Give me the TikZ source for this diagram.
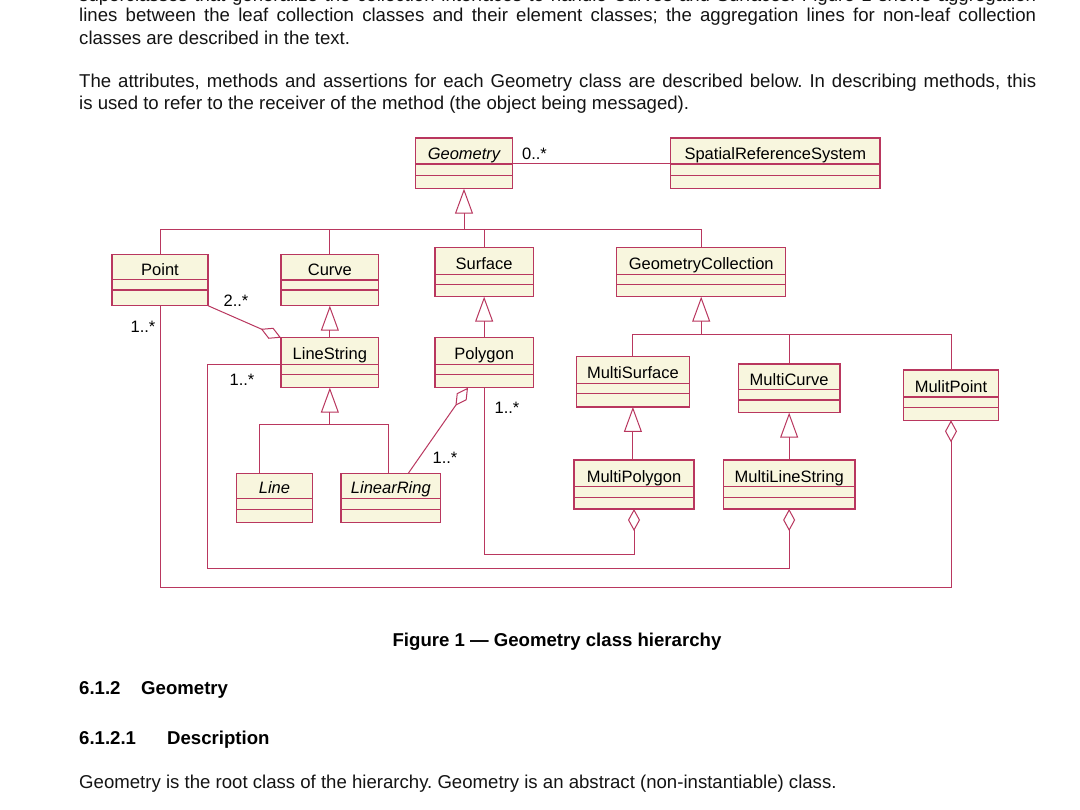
\documentclass[tikz,border=0pt]{standalone}
\usepackage{fontspec}
\setmainfont{Liberation Sans}
\usetikzlibrary{arrows.meta,calc}
\frenchspacing
\definecolor{umlline}{RGB}{185,55,95}
\definecolor{umlfill}{RGB}{248,246,222}
\definecolor{bodytext}{RGB}{20,20,20}
\newcommand{\bodyfont}{\fontsize{18.6}{22}\selectfont}
\newcommand{\umlfont}{\fontsize{16.5}{19}\selectfont}
% #1 name, #2 left, #3 top, #4 right, #5 bottom, #6 sep1, #7 sep2, #8 text, #9 font switch
\newcommand{\umlclass}[9]{%
  \node[classbox, minimum width={(#4-#2)*1pt}, minimum height={(#5-#3)*1pt}] (#1) at ({(#2+#4)/2},{(#3+#5)/2}) {};
  \coordinate (#1-s1) at (#2,#6);
  \draw[classsep] (#1-s1) -- (#4,#6);
  \draw[classsep] (#2,#7) -- (#4,#7);
  \node[classname, font=\umlfont#9] (#1-name) at ({(#2+#4)/2},{#6-4.5}) {#8};
}
\tikzset{
  classbox/.style={draw=umlline, fill=umlfill, line width=1.1pt, rectangle, inner sep=0pt, outer sep=0pt},
  classsep/.style={draw=umlline, line width=1.1pt},
  classname/.style={anchor=base, inner sep=0pt, text=black},
  conn/.style={draw=umlline, line width=1pt},
  gen/.style={conn, -{Triangle[open, length=25pt, width=18pt]}},
  agg/.style={conn, -{Diamond[open, length=22pt, width=12pt]}},
  mult/.style={font=\umlfont, inner sep=0pt, text=black},
  bodyline/.style={anchor=base west, inner sep=0pt, text=bodytext, font=\bodyfont},
  heading/.style={anchor=base west, inner sep=0pt, text=black, font=\bodyfont\bfseries},
}
\begin{document}
\begin{tikzpicture}[x=1pt, y=-1pt]
\path[use as bounding box, fill=white] (0,0) rectangle (1080,810);

% ---------- body text ----------
\node[bodyline] (t1) at (79,1.5) {\makebox[957pt][s]{superclasses that generalize the collection interfaces to handle Curves and Surfaces. Figure 1 shows aggregation}};
\node[bodyline] (t2) at (79,22) {\makebox[957pt][s]{lines between the leaf collection classes and their element classes; the aggregation lines for non-leaf collection}};
\node[bodyline] (t3) at (79,44.5) {classes are described in the text.};
\node[bodyline] (t4) at (79,87.5) {\makebox[957pt][s]{The attributes, methods and assertions for each Geometry class are described below. In describing methods, this}};
\node[bodyline] (t5) at (79,109.5) {is used to refer to the receiver of the method (the object being messaged).};

% ---------- classes ----------
\umlclass{Geometry}{415.3}{138}{512.7}{188.7}{164}{175.7}{Geometry}{\itshape}
\umlclass{SRS}{670.7}{138}{880}{188.7}{164}{175.7}{SpatialReferenceSystem}{}
\umlclass{Point}{112}{254.7}{208}{305.7}{279.7}{290}{Point}{}
\umlclass{Curve}{281}{254.7}{378.7}{305.7}{280}{290}{Curve}{}
\umlclass{Surface}{435}{247.3}{533.3}{296.7}{274.3}{284.3}{Surface}{}
\umlclass{GC}{616.7}{247.3}{785.7}{296.7}{274.3}{284.3}{GeometryCollection}{}
\umlclass{LineString}{281}{337.7}{378.7}{387.7}{364.3}{374.7}{LineString}{}
\umlclass{Polygon}{435}{337.7}{533.3}{387.7}{364.3}{374.7}{Polygon}{}
\umlclass{MultiSurface}{576.5}{356.5}{689.3}{407}{383.3}{393.7}{MultiSurface}{}
\umlclass{MultiCurve}{738.3}{364}{840}{412.7}{389.7}{400}{MultiCurve}{}
\umlclass{MulitPoint}{903.3}{370}{998.7}{420.3}{397}{407.3}{MulitPoint}{}
\umlclass{Line}{236.7}{473.3}{312.3}{522.3}{498.3}{509.3}{Line}{\itshape}
\umlclass{LinearRing}{341}{473.3}{440.7}{522.3}{498.3}{509.3}{LinearRing}{\itshape}
\umlclass{MultiPolygon}{574}{460}{694}{509}{486.7}{497.7}{MultiPolygon}{}
\umlclass{MultiLineString}{723.3}{460}{855}{509}{486.7}{497.7}{MultiLineString}{}

% ---------- association Geometry - SRS ----------
\draw[conn] (Geometry.east |- Geometry-s1) -- (SRS.west |- Geometry-s1);
\node[mult] (m0) at (534.5,154) {0..*};

% ---------- generalization from Geometry ----------
\coordinate (gbus) at ($(Geometry.south)+(0,40.8)$);
\draw[gen] (gbus) -- (Geometry.south);
\draw[conn] (Point.north) |- (gbus);
\draw[conn] (gbus) -| (GC.north);
\draw[conn] (Curve.north) -- (Curve.north |- gbus);
\draw[conn] (Surface.north) -- (Surface.north |- gbus);

% ---------- Curve / Surface subclasses ----------
\draw[gen] (LineString.north) -- (Curve.south);
\draw[gen] (Polygon.north) -- (Surface.south);

% ---------- generalization from GeometryCollection ----------
\coordinate (cbus) at ($(GC.south)+(0,38.3)$);
\draw[gen] (cbus) -- (GC.south);
\draw[conn] (MultiSurface.north) |- (cbus);
\draw[conn] (cbus) -| (MulitPoint.north);
\draw[conn] (MultiCurve.north) -- (MultiCurve.north |- cbus);
\draw[gen] (MultiSurface.south |- MultiPolygon.north) -- (MultiSurface.south);
\draw[gen] (MultiCurve.south |- MultiLineString.north) -- (MultiCurve.south);

% ---------- generalization from LineString ----------
\coordinate (lbus) at ($(LineString.south)+(0,36.6)$);
\coordinate (lineTop) at ($(Line.north west)+(22.6,0)$);
\coordinate (ringTop) at ($(LinearRing.north)+(-1.9,0)$);
\draw[gen] (lbus) -- (LineString.south);
\draw[conn] (lineTop) |- (lbus);
\draw[conn] (lbus) -| (ringTop);

% ---------- aggregations ----------
\draw[agg] (Point.south east) -- (LineString.north west);
\node[mult] (m1) at (236,301) {2..*};

\coordinate (ringAgg) at ($(LinearRing.north west)+(67.3,0)$);
\coordinate (polyAgg) at ($(Polygon.south west)+(33,0)$);
\draw[agg] (ringAgg) -- (polyAgg);
\node[mult] (m2) at (445,458) {1..*};

\coordinate (mpc) at ($(MultiPolygon.south)+(0,45)$);
\draw[agg] (Polygon.south) |- (mpc) -- (MultiPolygon.south);
\node[mult] (m3) at (507,408) {1..*};

\coordinate (mls1) at (207.3,568.3);
\draw[agg] (LineString.west |- LineString-s1) -| (mls1) -| (MultiLineString.south);
\node[mult] (m4) at (242,380) {1..*};

\coordinate (mp1) at ($(Point.south)+(0,281.6)$);
\draw[agg] (Point.south) -- (mp1) -| (MulitPoint.south);
\node[mult] (m5) at (143,327) {1..*};

% ---------- caption and following text ----------
\node[anchor=base, inner sep=0pt, font=\bodyfont\bfseries] (cap) at (557,646.5) {Figure 1 — Geometry class hierarchy};
\node[heading] (h1n) at (79,694.5) {6.1.2};
\node[heading] (h1t) at (141,694.5) {Geometry};
\node[heading] (h2n) at (79,744.5) {6.1.2.1};
\node[heading] (h2t) at (167,744.5) {Description};
\node[bodyline] (t6) at (79,788.5) {Geometry is the root class of the hierarchy. Geometry is an abstract (non-instantiable) class.};
\end{tikzpicture}
\end{document}
